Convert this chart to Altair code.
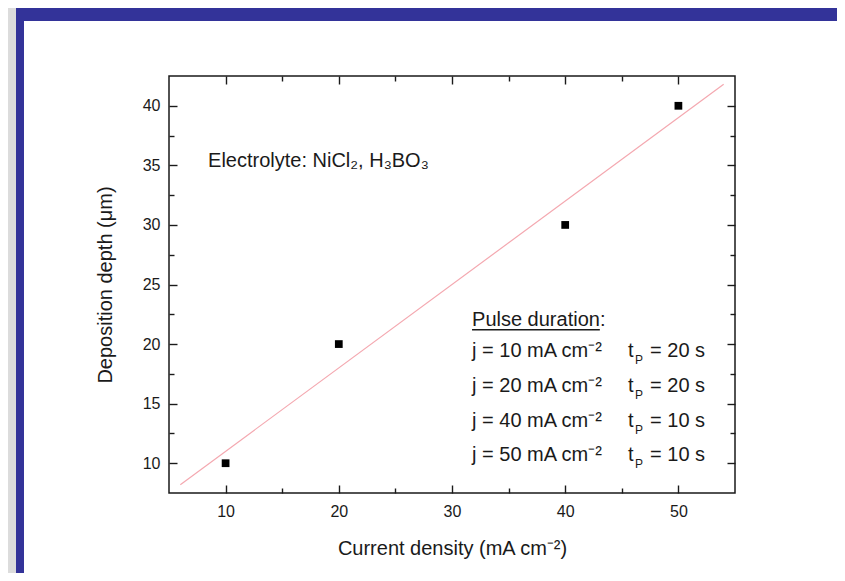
import altair as alt
import pandas as pd

# ---------------- data ----------------
current_density = [10, 20, 40, 50]      # mA cm^-2
deposition_depth = [10, 20, 30, 40]     # um
pulse_time = [20, 20, 10, 10]           # s

x_major = [10, 20, 30, 40, 50]
x_minor = [15, 25, 35, 45]
y_major = [10, 15, 20, 25, 30, 35, 40]
y_minor = [12.5, 17.5, 22.5, 27.5, 32.5, 37.5]

x_domain = [5, 55]
y_domain = [7.5, 42.5]
fit_extent = [6, 54]

electrolyte_label = "Electrolyte: NiCl\u2082, H\u2083BO\u2083"
legend_header = "Pulse duration:"
x_title = "Current density (mA cm\u207b\u00b2)"
y_title = "Deposition depth (\u03bcm)"

# ---------------- layout / style ----------------
W, H = 566, 417
PAD = {"left": 161, "top": 68, "right": 102, "bottom": 80}
FONT = "Liberation Sans"
INK = "#1a1a1a"
BLUE = "#333399"
GRAY = "#dcdcdc"
PINK = "#f4a8b0"
ANN_SIZE = 20

# annotation anchor positions (data units)
ELEC_X, ELEC_Y = 8.45, 34.86
LEG_X1, LEG_X2 = 31.77, 45.55
HEAD_Y = 21.52
LEG_Y0, LEG_DY = 18.91, 2.92
UNDER_Y = 21.2
HEAD_W_EM = 6.39  # em width of "Pulse duration"
PX_PER_X = W / (x_domain[1] - x_domain[0])

xs = alt.Scale(domain=x_domain, nice=False, zero=False)
ys = alt.Scale(domain=y_domain, nice=False, zero=False)


def axis(orient, values, size, labels=False, title=None, lpad=8, tpad=10):
    kw = dict(
        orient=orient, values=values, tickSize=size, offset=-size,
        domain=False, grid=False, labels=labels, tickColor=INK, tickWidth=1.4,
        labelFont=FONT, labelFontSize=16, labelColor=INK, labelPadding=lpad,
        titleFont=FONT, titleFontSize=20, titleFontWeight="normal",
        titleColor=INK, titlePadding=tpad, title=title,
    )
    return alt.Axis(**kw)


one = pd.DataFrame({"k": [0]})

# decorative page frame (gray strip + blue border)
deco_gray = alt.Chart(one).mark_rect(color=GRAY).encode(
    x=alt.value(-PAD["left"]), x2=alt.value(-PAD["left"] + 8),
    y=alt.value(-PAD["top"]), y2=alt.value(H + PAD["bottom"]))
deco_top = alt.Chart(one).mark_rect(color=BLUE).encode(
    x=alt.value(-PAD["left"] + 8), x2=alt.value(W + PAD["right"]),
    y=alt.value(-PAD["top"]), y2=alt.value(-PAD["top"] + 13))
deco_left = alt.Chart(one).mark_rect(color=BLUE).encode(
    x=alt.value(-PAD["left"] + 8), x2=alt.value(-PAD["left"] + 16),
    y=alt.value(-PAD["top"]), y2=alt.value(H + PAD["bottom"]))

df = pd.DataFrame({"j": current_density, "d": deposition_depth})

fit = alt.Chart(df).transform_regression(
    "j", "d", extent=fit_extent
).mark_line(color=PINK, strokeWidth=1.2).encode(
    x=alt.X("j:Q", scale=xs, axis=axis("bottom", x_minor, 5)),
    y=alt.Y("d:Q", scale=ys, axis=axis("left", y_minor, 5)),
)

points = alt.Chart(df).mark_square(size=60, color="black", opacity=1).encode(
    x=alt.X("j:Q", scale=xs, axis=axis("bottom", x_major, 8, labels=True,
                                       title=x_title, lpad=10, tpad=19)),
    y=alt.Y("d:Q", scale=ys, axis=axis("left", y_major, 8, labels=True,
                                       title=y_title, lpad=9, tpad=27)),
)

txt = dict(font=FONT, fontSize=ANN_SIZE, color=INK, align="left",
           baseline="alphabetic")

elec = alt.Chart(pd.DataFrame({"x": [ELEC_X], "y": [ELEC_Y],
                               "t": [electrolyte_label]})).mark_text(**txt).encode(
    x=alt.X("x:Q", scale=xs, axis=axis("top", x_major, 8)),
    y=alt.Y("y:Q", scale=ys, axis=axis("right", y_major, 8)),
    text="t:N",
)

head = alt.Chart(pd.DataFrame({"x": [LEG_X1], "y": [HEAD_Y],
                               "t": [legend_header]})).mark_text(**txt).encode(
    x=alt.X("x:Q", scale=xs, axis=axis("top", x_minor, 5)),
    y=alt.Y("y:Q", scale=ys, axis=axis("right", y_minor, 5)),
    text="t:N",
)

under = alt.Chart(pd.DataFrame({
    "x": [LEG_X1], "x2": [LEG_X1 + HEAD_W_EM * ANN_SIZE / PX_PER_X],
    "y": [UNDER_Y]})).mark_rule(color=INK, strokeWidth=1.3).encode(
    x=alt.X("x:Q", scale=xs, axis=None), x2="x2:Q",
    y=alt.Y("y:Q", scale=ys, axis=None),
)

leg = pd.DataFrame({
    "jtxt": [f"j = {j} mA cm\u207b\u00b2" for j in current_density],
    "ttxt": [f"= {t} s" for t in pulse_time],
    "row": list(range(len(current_density))),
})
leg["y"] = LEG_Y0 - leg["row"] * LEG_DY
leg["x1"] = LEG_X1
leg["x2"] = LEG_X2
leg["t"] = "t"
leg["p"] = "P"

base = alt.Chart(leg)
col_j = base.mark_text(**txt).encode(
    x=alt.X("x1:Q", scale=xs, axis=None),
    y=alt.Y("y:Q", scale=ys, axis=None), text="jtxt:N")
col_t = base.mark_text(**txt).encode(
    x=alt.X("x2:Q", scale=xs, axis=None),
    y=alt.Y("y:Q", scale=ys, axis=None), text="t:N")
col_p = base.mark_text(font=FONT, fontSize=12, color=INK, align="left",
                       baseline="alphabetic", dx=7, dy=7).encode(
    x=alt.X("x2:Q", scale=xs, axis=None),
    y=alt.Y("y:Q", scale=ys, axis=None), text="p:N")
col_v = base.mark_text(**txt, dx=22).encode(
    x=alt.X("x2:Q", scale=xs, axis=None),
    y=alt.Y("y:Q", scale=ys, axis=None), text="ttxt:N")

chart = alt.layer(
    deco_gray, deco_top, deco_left, fit, points, elec, head, under,
    col_j, col_t, col_p, col_v,
).resolve_axis(x="independent", y="independent").properties(
    width=W, height=H, padding=PAD, background="white",
    autosize=alt.AutoSizeParams(type="none"),
).configure_view(stroke=INK, strokeWidth=1.5)

chart.save("out.html", embed_options={"renderer": "svg", "actions": False})
